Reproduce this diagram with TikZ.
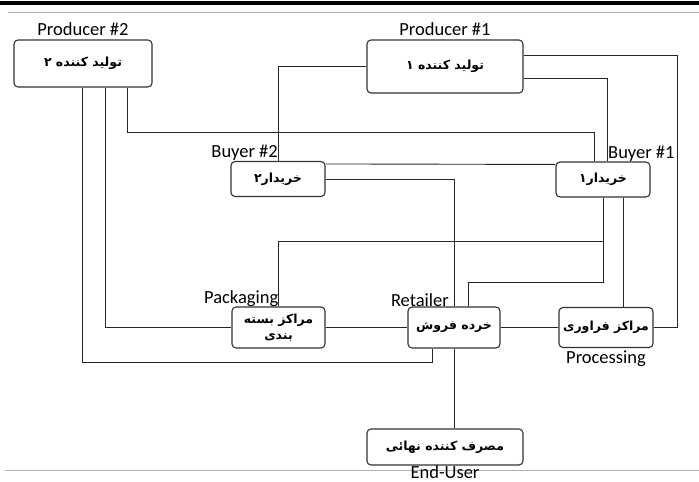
\documentclass[tikz,border=0pt]{standalone}
\usepackage{fontspec}
\setmainfont{Carlito}
\newfontfamily\fa[Script=Arabic]{DejaVu Sans}
\TeXXeTstate=1
\usetikzlibrary{positioning}

\begin{document}
\begin{tikzpicture}[x=1pt, y=-1pt,
    actor/.style={rectangle, rounded corners=4pt, draw=black!80, line width=1.1pt, inner sep=2pt, align=center, font=\fa\bfseries\fontsize{12.5}{16}\selectfont},
    lbl/.style={font=\fontsize{18.5}{20}\selectfont, inner sep=0pt},
    link/.style={draw=black!85, line width=0.9pt}
]
\useasboundingbox (0,0) rectangle (699,482);

% page rules
\draw[line width=4pt] (0,2.5) -- (699,2.5);
\draw[gray!60, line width=0.8pt] (8,12) -- (699,12);
\draw[gray!60, line width=0.8pt] (5,470) -- (699,470);

\node[actor, minimum width=138pt, minimum height=47pt] (p2) at (83,63.5) {\beginR تولید کننده ۲\endR};
\node[actor, minimum width=156pt, minimum height=53pt] (p1) at (445,66.5) {\beginR تولید کننده ۱\endR};
\node[actor, minimum width=94pt, minimum height=35pt] (b2) at (278,179) {\beginR خریدار۲\endR};
\node[actor, minimum width=94pt, minimum height=35pt] (b1) at (603,179.5) {\beginR خریدار۱\endR};
\node[actor, minimum width=93pt, minimum height=41pt] (pack) at (278.5,327.5) {\beginR مراکز بسته\endR\\\beginR بندی\endR};
\node[actor, minimum width=92pt, minimum height=41pt] (retail) at (454,327.5) {\beginR خرده فروش\endR};
\node[actor, minimum width=94pt, minimum height=40pt] (proc) at (606,327.5) {\beginR مراکز فراوری\endR};
\node[actor, minimum width=156pt, minimum height=36pt] (end) at (445,447) {\beginR مصرف کننده نهائی\endR};

\node[lbl, above=4pt of p2] (p2lbl) {Producer \#2};
\node[lbl, above=4pt of p1] (p1lbl) {Producer \#1};
\node[lbl, anchor=south east] (b2lbl) at (b2.north) {Buyer \#2};
\node[lbl, anchor=south west] (b1lbl) at ([xshift=5pt]b1.north) {Buyer \#1};
\node[lbl, anchor=south east] (packlbl) at (pack.north) {Packaging};
\node[lbl, anchor=south east] (retaillbl) at ([xshift=-5pt]retail.north) {Retailer};
\node[lbl, below=3pt of proc] (proclbl) {Processing};
\node[lbl, below=0pt of end] (endlbl) {End-User};

% producer 2
\draw[link] ([xshift=-1pt]p2.south) -- ++(0,275) -| ([xshift=-22pt]retail.south);
\draw[link] ([xshift=22pt]p2.south) |- (pack.west);
\draw[link] ([xshift=44pt]p2.south) -- ++(0,45) -| ([xshift=-9pt]b1.north);

% producer 1
\draw[link] (p1.west) -| (b2.north);
\draw[link] ([yshift=11.5pt]p1.east) -- ++(154,0) |- (proc.east);
\draw[link] ([yshift=-11.5pt]p1.east) -| ([xshift=4pt]b1.north);

% buyers
\draw[link] ([yshift=-3pt]b2.north east) -- ([yshift=-3pt]b1.north west);
\draw[link] (b2.east) -| (retail.north);
\draw[link] (b1.south) -- ++(0,85) -| ([xshift=14pt]retail.north);
\draw[link] (pack.north) -- ++(0,-65) -| (b1.south);
\draw[link] ([xshift=20pt]b1.south) -- ([xshift=20pt]b1.south |- proc.north);

% lower row
\draw[link] (pack.east) -- (retail.west);
\draw[link] (retail.east) -- (proc.west);
\draw[link] (retail.south) -- (retail.south |- end.north);

\end{tikzpicture}
\end{document}
